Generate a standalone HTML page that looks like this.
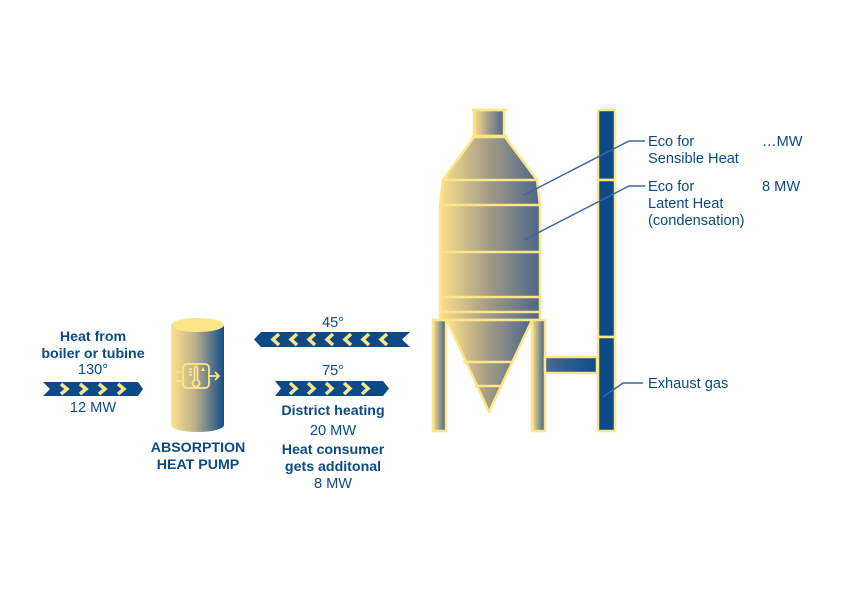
<!DOCTYPE html>
<html><head><meta charset="utf-8"><style>
html,body{margin:0;padding:0;background:#fff;}
svg{display:block;}
text{font-family:"Liberation Sans",Arial,sans-serif;fill:#0b4a86;font-size:14.6px;}
.b{font-weight:bold;font-size:14.2px;}
</style></head><body>
<svg width="842" height="595" viewBox="0 0 842 595" xmlns="http://www.w3.org/2000/svg">
<defs>
<linearGradient id="g" x1="0" y1="0" x2="1" y2="0">
<stop offset="0" stop-color="#fbe08a"/><stop offset="0.5" stop-color="#a09a86"/><stop offset="1" stop-color="#4d6589"/>
</linearGradient>
<linearGradient id="gc" x1="0" y1="0" x2="1" y2="0">
<stop offset="0" stop-color="#fde38c"/><stop offset="0.45" stop-color="#bdb08a"/><stop offset="1" stop-color="#114d8a"/>
</linearGradient>
<linearGradient id="gl" x1="0" y1="0" x2="1" y2="0">
<stop offset="0" stop-color="#fbe08a"/><stop offset="1" stop-color="#3d5f8c"/>
</linearGradient>
<linearGradient id="gp" x1="0" y1="0" x2="1" y2="0">
<stop offset="0" stop-color="#4a6a92"/><stop offset="1" stop-color="#0b4a86"/>
</linearGradient>
</defs>

<g stroke="#fde68a" stroke-width="2.5" stroke-linejoin="round">
<rect x="474" y="110" width="30" height="26" fill="url(#g)"/>
<line x1="472" y1="110" x2="507" y2="110"/>
<line x1="472" y1="136" x2="507" y2="136"/>
<polygon points="474,137 505,137 537,180 540,205 540,320 440,320 440,205 443,180" fill="url(#g)"/>
<line x1="443" y1="180" x2="537" y2="180"/>
<line x1="440" y1="205" x2="540" y2="205"/>
<line x1="440" y1="252" x2="540" y2="252"/>
<line x1="440" y1="297" x2="540" y2="297"/>
<line x1="440" y1="312" x2="540" y2="312"/>
<polygon points="447,320 532,320 489,412" fill="url(#g)"/>
<line x1="463" y1="362" x2="512" y2="362"/>
<line x1="475" y1="386" x2="501" y2="386"/>
<rect x="433" y="320" width="13" height="111" fill="url(#gl)"/>
<rect x="532" y="320" width="13" height="111" fill="url(#gl)"/>
<rect x="545" y="357" width="52" height="16" fill="url(#gp)"/>
<rect x="598" y="110" width="17" height="70" fill="#0b4a86"/>
<rect x="598" y="180" width="17" height="157" fill="#0b4a86"/>
<rect x="598" y="337" width="17" height="94" fill="#0b4a86"/>
</g>

<g stroke="#3d66a3" stroke-width="1.5" fill="none">
<polyline points="524,195 629,141 645,141"/>
<polyline points="524,240 629,186 645,186"/>
<polyline points="603,397 623,383 643,383"/>
</g>
<text x="648" y="146">Eco for</text>
<text x="648" y="163">Sensible Heat</text>
<text x="762" y="146">…MW</text>
<text x="648" y="191">Eco for</text>
<text x="648" y="208">Latent Heat</text>
<text x="648" y="225">(condensation)</text>
<text x="762" y="191">8 MW</text>
<text x="648" y="388">Exhaust gas</text>

<!-- Cylinder -->
<path d="M171,325 L171,425 A26.5,7 0 0 0 224,425 L224,325 Z" fill="url(#gc)"/>
<ellipse cx="197.5" cy="325" rx="26.5" ry="7" fill="#fde68a"/>
<g stroke="#fde68a" stroke-width="1.8" fill="none">
<rect x="183" y="364" width="26" height="24" rx="4"/>
<path d="M194.5,368 v12 a3.5,3.5 0 1 0 3,0 v-12 a1.5,1.5 0 0 0 -3,0 z"/>
<line x1="209" y1="376" x2="219" y2="376"/>
<polyline points="215,372 219,376 215,380"/>
<line x1="176" y1="372" x2="183" y2="372"/>
<line x1="176" y1="381" x2="183" y2="381"/>
<line x1="189" y1="369" x2="192" y2="369"/><line x1="189" y1="372" x2="192" y2="372"/><line x1="189" y1="375" x2="192" y2="375"/>
</g>
<polygon points="201,371 205,371 203,367" fill="#fde68a"/>

<!-- Arrows -->
<polygon points="43,382 138,382 143,389 138,396 43,396 50,389" fill="#0b4a86"/>
<g stroke="#fde68a" stroke-width="3.5" fill="none">
<polyline points="61,384 67,389 61,394"/><polyline points="80,384 86,389 80,394"/>
<polyline points="99,384 105,389 99,394"/><polyline points="118,384 124,389 118,394"/>
</g>
<polygon points="261,332 410,332 402,339.5 410,347 261,347 254,339.5" fill="#0b4a86"/>
<g stroke="#fde68a" stroke-width="3.5" fill="none">
<polyline points="279,334 273,339.5 279,345"/><polyline points="297,334 291,339.5 297,345"/>
<polyline points="315,334 309,339.5 315,345"/><polyline points="333,334 327,339.5 333,345"/>
<polyline points="351,334 345,339.5 351,345"/><polyline points="369,334 363,339.5 369,345"/>
<polyline points="387,334 381,339.5 387,345"/>
</g>
<polygon points="275,381 383,381 389,388.5 383,396 275,396 281,388.5" fill="#0b4a86"/>
<g stroke="#fde68a" stroke-width="3.5" fill="none">
<polyline points="290,383 296,388.5 290,394"/><polyline points="308,383 314,388.5 308,394"/>
<polyline points="326,383 332,388.5 326,394"/><polyline points="344,383 350,388.5 344,394"/>
<polyline points="362,383 368,388.5 362,394"/>
</g>

<text x="93" y="341" class="b" text-anchor="middle">Heat from</text>
<text x="93" y="358" class="b" text-anchor="middle">boiler or tubine</text>
<text x="93" y="374" text-anchor="middle">130°</text>
<text x="93" y="412" text-anchor="middle">12 MW</text>
<text x="198" y="452" class="b" text-anchor="middle">ABSORPTION</text>
<text x="198" y="469" class="b" text-anchor="middle">HEAT PUMP</text>
<text x="333" y="327" text-anchor="middle">45°</text>
<text x="333" y="375" text-anchor="middle">75°</text>
<text x="333" y="415" class="b" text-anchor="middle">District heating</text>
<text x="333" y="435" text-anchor="middle">20 MW</text>
<text x="333" y="454" class="b" text-anchor="middle">Heat consumer</text>
<text x="333" y="471" class="b" text-anchor="middle">gets additonal</text>
<text x="333" y="488" text-anchor="middle">8 MW</text>
</svg>
</body></html>
